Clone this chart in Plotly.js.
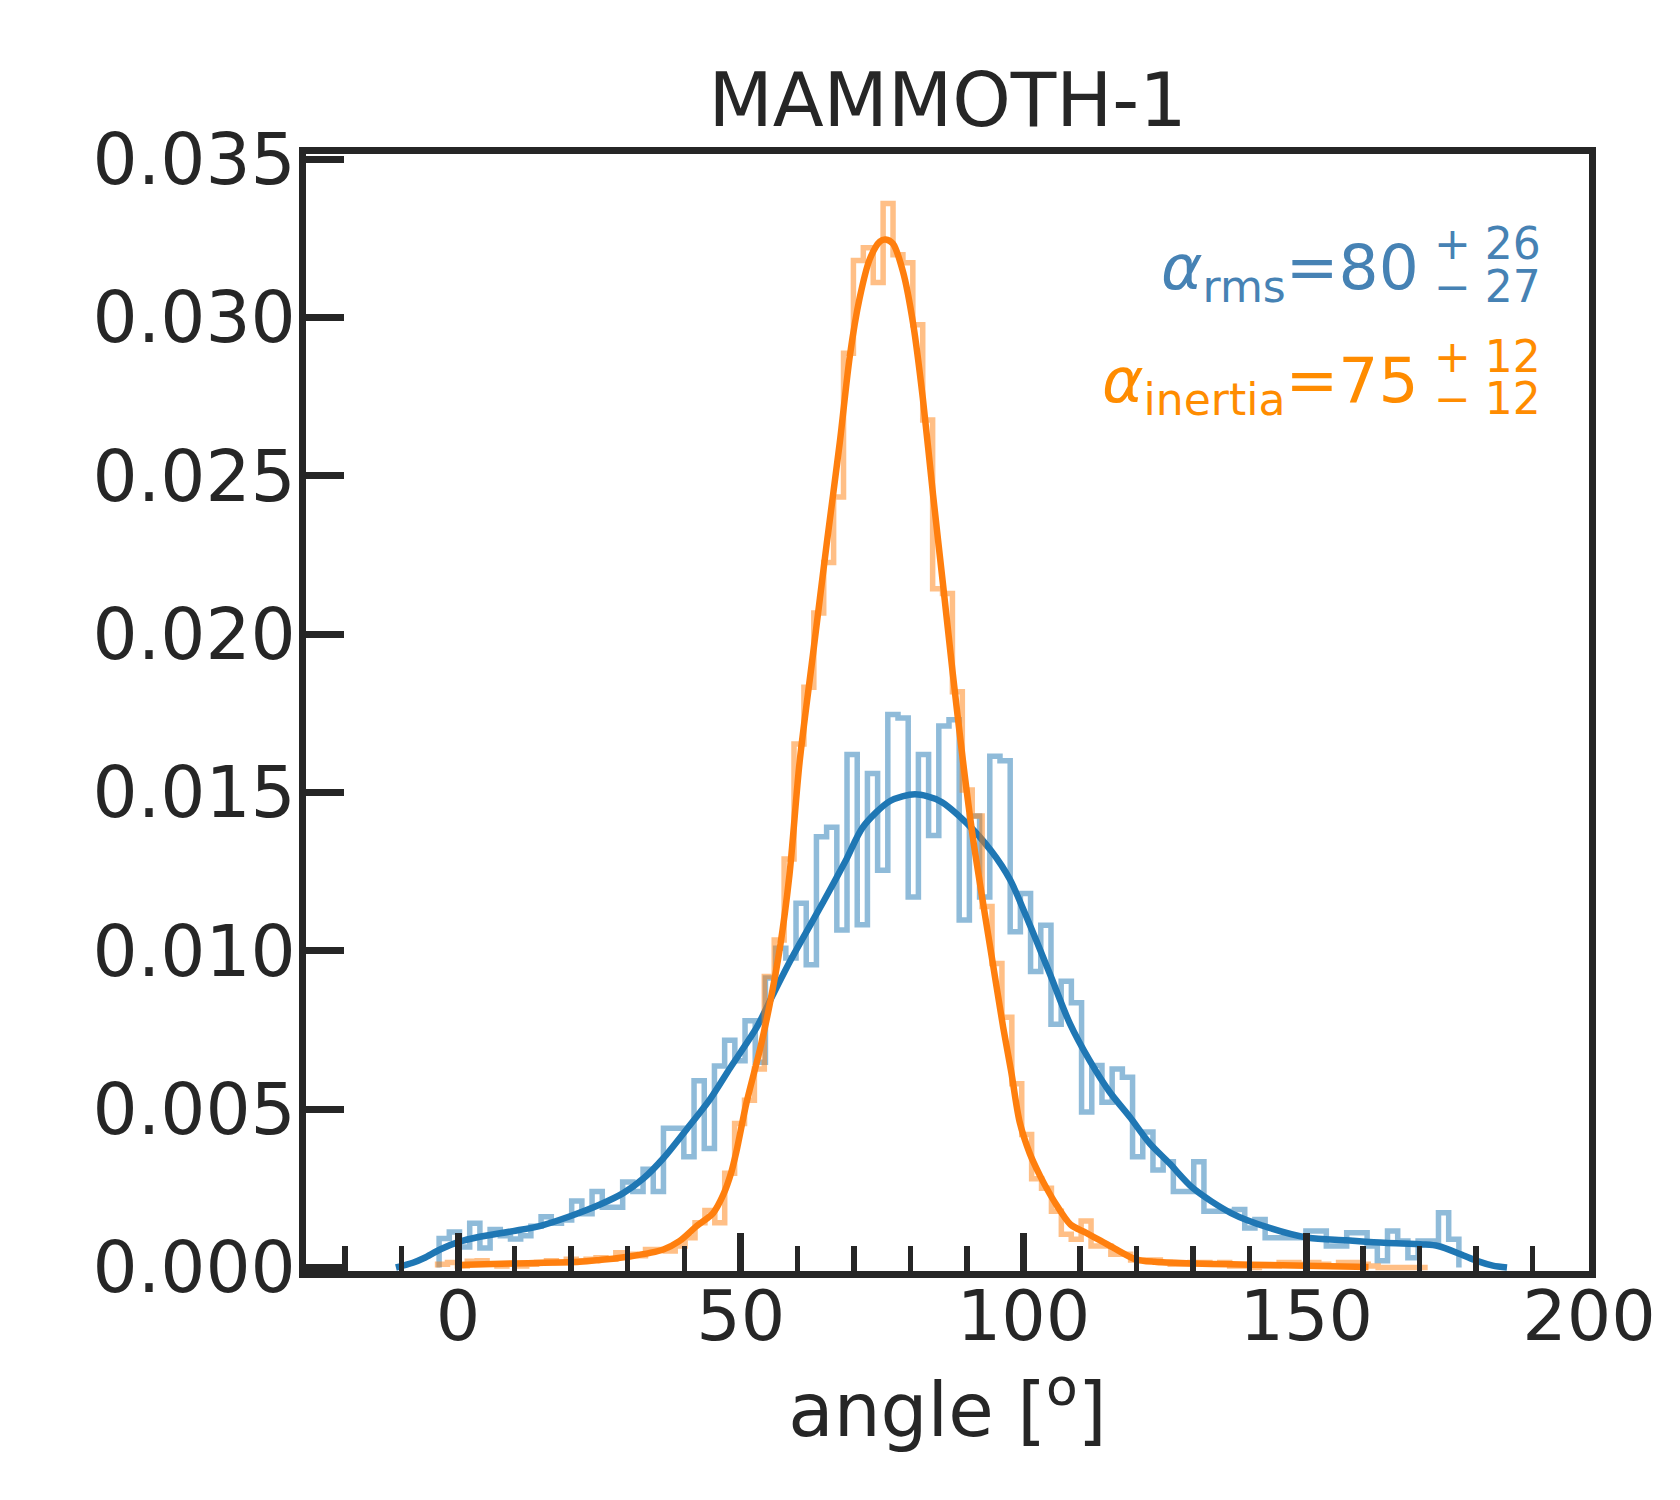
<!DOCTYPE html>
<html>
<head>
<meta charset="utf-8">
<script src="https://cdn.plot.ly/plotly-3.0.1.min.js"></script>
<style>
  body { margin: 0; background: #ffffff; }
  #plot { width: 1680px; height: 1500px; }
</style>
</head>
<body>
<div id="plot"></div>
<script>
// histogram bins (angle in degrees)
var rmsBinStart = -3.36;
var rmsBinWidth = 1.8035;
var rmsHist = [
	0.00092, 0.00112, 0.00065, 0.00140, 0.00062, 0.00120, 0.00100, 0.00090, 0.00100, 0.00130,
	0.00160, 0.00140, 0.00150, 0.00210, 0.00170, 0.00240, 0.00190, 0.00190, 0.00270, 0.00240,
	0.00310, 0.00240, 0.00440, 0.00440, 0.00350, 0.00590, 0.00376, 0.00636, 0.00718, 0.00653,
	0.00779, 0.00648, 0.00914, 0.01008, 0.00977, 0.01150, 0.00956, 0.01360, 0.01390, 0.01066,
	0.01620, 0.01082, 0.01560, 0.01254, 0.01746, 0.01735, 0.01170, 0.01620, 0.01364, 0.01710,
	0.01730, 0.01097, 0.01426, 0.01170, 0.01614, 0.01600, 0.01060, 0.01181, 0.00935, 0.01081,
	0.00768, 0.00904, 0.00836, 0.00491, 0.00638, 0.00522, 0.00627, 0.00601, 0.00350, 0.00428,
	0.00308, 0.00334, 0.00240, 0.00240, 0.00334, 0.00178, 0.00178, 0.00178, 0.00183, 0.00125,
	0.00152, 0.00094, 0.00094, 0.00094, 0.00094, 0.00115, 0.00115, 0.00068, 0.00068, 0.00110,
	0.00110, 0.00068, 0.00021, 0.00115, 0.00084, 0.00031, 0.00084, 0.00084, 0.00173, 0.00089
];

var inertiaBinStart = -3.63;
var inertiaBinWidth = 1.751;
var inertiaHist = [
	0.00010, 0.00016, 0.00005, 0.00020, 0.00021, 0.00010, 0.00005, 0.00010, 0.00005, 0.00010,
	0.00016, 0.00021, 0.00016, 0.00026, 0.00021, 0.00026, 0.00031, 0.00026, 0.00047, 0.00042,
	0.00037, 0.00057, 0.00057, 0.00052, 0.00068, 0.00094, 0.00141, 0.00180, 0.00141, 0.00298,
	0.00455, 0.00528, 0.00627, 0.00919, 0.01034, 0.01290, 0.01653, 0.01832, 0.02067, 0.02226,
	0.02433, 0.02887, 0.03180, 0.03220, 0.03110, 0.03360, 0.03198, 0.03173, 0.02977, 0.02676,
	0.02143, 0.02128, 0.01818, 0.01508, 0.01426, 0.01140, 0.00960, 0.00790, 0.00580, 0.00420,
	0.00280, 0.00250, 0.00178, 0.00105, 0.00089, 0.00147, 0.00068, 0.00068, 0.00042, 0.00042,
	0.00024, 0.00024, 0.00024, 0.00016, 0.00010, 0.00010, 0.00016, 0.00016, 0.00010, 0.00016,
	0.00005, 0.00005, 0.00000, 0.00005, 0.00005, 0.00016, 0.00016, 0.00010, 0.00016, 0.00010,
	0.00005, 0.00016, 0.00016, 0.00010, 0.00005, 0.00000, 0.00000, 0.00000, 0.00000, 0.00000
];

// density curves
var rmsKdeX = [-11, -8, -6, -3.2, 0, 3.8, 9.7, 14.4, 19.8, 25.1, 29.2, 32.7, 36.3, 40.4,
	44.5, 48.1, 52.8, 55.7, 58.7, 61.6, 64.6, 66.6, 68.7, 71.6, 76.4, 80.8, 85.2, 89.9, 94.3,
	97.6, 101.1, 104.7, 108.2, 111.7, 115.2, 118.8, 122.3, 125.8, 130.0, 136.7, 143.5, 150.3,
	157.0, 163.8, 170.6, 173.3, 177.3, 180.3, 183, 185.5];
var rmsKdeY = [0, 0.00015, 0.00030, 0.00057, 0.00080, 0.00097, 0.00115, 0.00131, 0.00162,
	0.00199, 0.00235, 0.00280, 0.00345, 0.00436, 0.00530, 0.00630, 0.00758, 0.00862, 0.00967,
	0.01060, 0.01155, 0.01220, 0.01290, 0.01391, 0.01473, 0.01494, 0.01473, 0.01404, 0.01315,
	0.01225, 0.01082, 0.00925, 0.00770, 0.00653, 0.00555, 0.00475, 0.00392, 0.00329, 0.00250,
	0.00172, 0.00125, 0.00094, 0.00086, 0.00078, 0.00073, 0.00068, 0.00042, 0.00020, 0.00006, 0];

var inertiaKdeX = [0, 9.7, 21.5, 25.1, 30.4, 36.3, 39.2, 42.2, 45.1, 46.9, 48.3, 49.2, 51.0,
	53.4, 55.1, 56.9, 58.6, 60.4, 62.8, 65.2, 67.5, 69.3, 71.0, 72.8, 74.6, 75.6, 76.9, 78.7,
	80.5, 82.2, 84.0, 85.8, 87.5, 89.3, 91.1, 92.9, 94.6, 96.4, 97.8, 99.3, 101.1, 102.9, 104.4,
	105.6, 108.3, 111.0, 113.7, 116.4, 119.8, 123.2, 129.9, 136.7, 143.5, 152, 161];
var inertiaKdeY = [0.00008, 0.00013, 0.00018, 0.00024, 0.00035, 0.00057, 0.00084, 0.00131,
	0.00172, 0.00230, 0.00300, 0.00365, 0.00520, 0.00690, 0.00830, 0.01008, 0.01240, 0.01597,
	0.01942, 0.02287, 0.02605, 0.02881, 0.03060, 0.03184, 0.03240, 0.03246, 0.03233, 0.03143,
	0.02977, 0.02743, 0.02439, 0.02150, 0.01873, 0.01597, 0.01350, 0.01144, 0.00956, 0.00758,
	0.00620, 0.00460, 0.00360, 0.00290, 0.00240, 0.00204, 0.00136, 0.00110, 0.00084, 0.00057,
	0.00026, 0.00018, 0.00013, 0.00010, 0.00008, 0.00005, 0.00002];

var xTickVals = [0, 50, 100, 150, 200];
var yTickVals = [0, 0.005, 0.010, 0.015, 0.020, 0.025, 0.030, 0.035];

var inkColor = '#262626';

// outline of a step histogram from its bins
function stepLine(start, width, vals) {
	var xs = [start];
	var ys = [0];
	for (var i = 0; i < vals.length; i++) {
		xs.push(start + i * width);
		ys.push(vals[i]);
	}
	xs.push(start + vals.length * width);
	ys.push(0);
	return {x: xs, y: ys};
}

var rmsStep = stepLine(rmsBinStart, rmsBinWidth, rmsHist);
var inertiaStep = stepLine(inertiaBinStart, inertiaBinWidth, inertiaHist);

var rmsHistTrace = {
	x: rmsStep.x,
	y: rmsStep.y,
	mode: 'lines',
	line: {shape: 'hv', color: 'rgba(31,119,180,0.5)', width: 5.5},
	hoverinfo: 'skip'
};

var rmsKdeTrace = {
	x: rmsKdeX,
	y: rmsKdeY,
	mode: 'lines',
	line: {shape: 'spline', smoothing: 0.8, color: '#1f77b4', width: 6.5},
	hoverinfo: 'skip'
};

var inertiaHistTrace = {
	x: inertiaStep.x,
	y: inertiaStep.y,
	mode: 'lines',
	line: {shape: 'hv', color: 'rgba(255,127,14,0.5)', width: 5.5},
	hoverinfo: 'skip'
};

var inertiaKdeTrace = {
	x: inertiaKdeX,
	y: inertiaKdeY,
	mode: 'lines',
	line: {shape: 'spline', smoothing: 0.8, color: '#ff7f0e', width: 6.5},
	hoverinfo: 'skip'
};

var mainFont = {family: 'DejaVu Sans', size: 63};
var scriptFont = {family: 'DejaVu Sans', size: 44};

function label(text, x, y, font, color, xanchor) {
	return {
		text: text,
		xref: 'paper', yref: 'paper',
		x: x, y: y,
		xanchor: xanchor, yanchor: 'middle',
		showarrow: false,
		font: {family: font.family, size: font.size, color: color}
	};
}

// plot area: left 306, right 1589, top 154, bottom 1271 (px)
var annotations = [
	label('<i>α</i><sub>rms</sub>=80', 0.8690, 0.8945, mainFont, '#4682b4', 'right'),
	label('+ 26', 0.8775, 0.9195, scriptFont, '#4682b4', 'left'),
	label('− 27', 0.8775, 0.8812, scriptFont, '#4682b4', 'left'),
	label('<i>α</i><sub>inertia</sub>=75', 0.8690, 0.7935, mainFont, '#ff8c00', 'right'),
	label('+ 12', 0.8775, 0.8188, scriptFont, '#ff8c00', 'left'),
	label('− 12', 0.8775, 0.7815, scriptFont, '#ff8c00', 'left')
];

var layout = {
	width: 1680,
	height: 1500,
	showlegend: false,
	paper_bgcolor: '#ffffff',
	plot_bgcolor: '#ffffff',
	margin: {l: 306, r: 91, t: 154, b: 229},
	font: {family: 'DejaVu Sans', color: inkColor, size: 70},
	title: {
		text: 'MAMMOTH-1',
		font: {family: 'DejaVu Sans', size: 74.5, color: inkColor},
		x: 0.5, xref: 'paper',
		y: 0.9337, yref: 'container', yanchor: 'middle'
	},
	xaxis: {
		range: [-26.9, 200.0],
		autorange: false,
		showgrid: false,
		zeroline: false,
		showline: true,
		mirror: true,
		linecolor: inkColor,
		linewidth: 7,
		ticks: 'inside',
		ticklen: 38,
		tickwidth: 7,
		tickcolor: inkColor,
		tickvals: xTickVals,
		ticktext: xTickVals.map(String),
		tickfont: {family: 'DejaVu Sans', size: 70, color: inkColor},
		ticklabelstandoff: -22,
		minor: {dtick: 10, ticks: 'inside', ticklen: 25, tickwidth: 5.5, tickcolor: inkColor, showgrid: false},
		title: {text: 'angle [<sup>o</sup>]', font: {family: 'DejaVu Sans', size: 74, color: inkColor}, standoff: 25}
	},
	yaxis: {
		range: [-0.00011, 0.03516],
		autorange: false,
		showgrid: false,
		zeroline: false,
		showline: true,
		mirror: true,
		linecolor: inkColor,
		linewidth: 7,
		ticks: 'inside',
		ticklen: 38,
		tickwidth: 7,
		tickcolor: inkColor,
		tickvals: yTickVals,
		ticktext: yTickVals.map(function (v) { return v.toFixed(3); }),
		tickfont: {family: 'DejaVu Sans', size: 71, color: inkColor},
		ticklabelstandoff: -11
	},
	annotations: annotations
};

var data = [rmsHistTrace, rmsKdeTrace, inertiaHistTrace, inertiaKdeTrace];

Plotly.newPlot('plot', data, layout, {staticPlot: true});
</script>
</body>
</html>
